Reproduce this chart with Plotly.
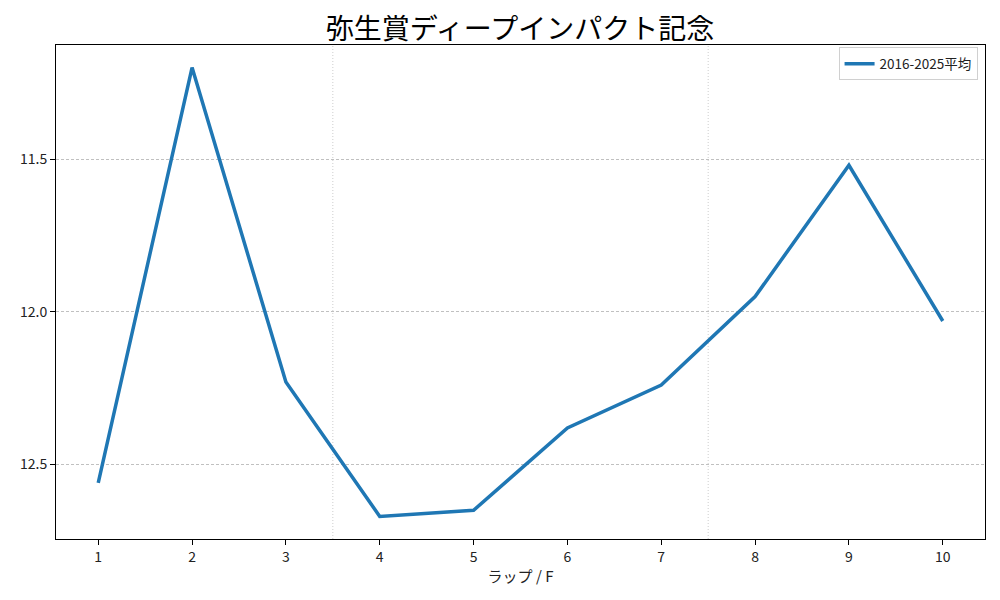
import plotly.graph_objects as go

# Lap number and averaged lap time (sec), 2016-2025
laps = [1, 2, 3, 4, 5, 6, 7, 8, 9, 10]
lap_times = [12.56, 11.20, 12.23, 12.67, 12.65, 12.38, 12.24, 11.95, 11.52, 12.03]
section_breaks = [3.5, 7.5]
y_ticks = [11.5, 12.0, 12.5]

font = "Noto Sans CJK JP"

fig = go.Figure()
fig.add_trace(go.Scatter(
    x=laps, y=lap_times, mode="lines", name="2016-2025平均",
    line=dict(color="#1f77b4", width=3.5),
))

# dotted vertical separators between race sections
for b in section_breaks:
    fig.add_shape(type="line", xref="x", yref="paper", x0=b, x1=b, y0=0, y1=1,
                  line=dict(color="#c0c0c0", width=0.8, dash="1px,2px"), layer="below")

fig.update_layout(
    width=1000, height=600,
    paper_bgcolor="white", plot_bgcolor="white",
    margin=dict(l=48, r=23, t=37, b=69, autoexpand=False),
    font=dict(family=font, size=14, color="#222"),
    title=dict(text="弥生賞ディープインパクト記念", x=0.512, xanchor="center",
               y=0.965, yanchor="middle", font=dict(size=28, color="black")),
    showlegend=True,
    legend=dict(x=0.992, y=0.995, xanchor="right", yanchor="top",
                bgcolor="white", bordercolor="#d0d0d0", borderwidth=1,
                font=dict(size=13.5)),
)
fig.update_xaxes(
    range=[0.55, 10.45], tickvals=laps, ticks="outside", ticklen=5,
    tickcolor="black", showgrid=False, zeroline=False, automargin=False,
    showline=True, linecolor="black", linewidth=1, mirror=True,
    title=dict(text="ラップ / F", font=dict(size=15), standoff=6),
)
fig.update_yaxes(
    range=[12.744, 11.126], tickvals=y_ticks, tickformat=".1f", automargin=False,
    ticks="outside", ticklen=5, tickcolor="black",
    showgrid=True, gridcolor="#c0c0c0", gridwidth=0.7, griddash="3px,2px",
    zeroline=False, showline=True, linecolor="black", linewidth=1, mirror=True,
)

fig.write_html("out.html")
